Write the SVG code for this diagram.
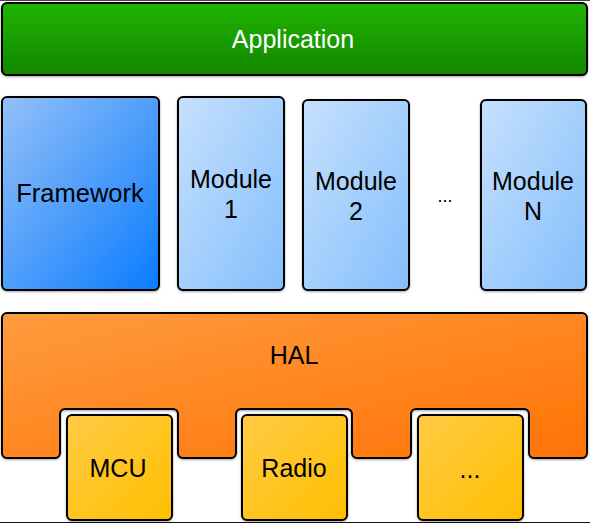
<svg xmlns="http://www.w3.org/2000/svg" width="590" height="523" viewBox="0 0 590 523">
<defs>
<linearGradient id="gApp" x1="0" y1="0" x2="0" y2="1"><stop offset="0" stop-color="#1db500"/><stop offset="1" stop-color="#168600"/></linearGradient>
<linearGradient id="gFw" x1="0" y1="0" x2="1" y2="1"><stop offset="0" stop-color="#94c0f8"/><stop offset="1" stop-color="#0a7cfe"/></linearGradient>
<linearGradient id="gMod" x1="0" y1="0" x2="1" y2="1"><stop offset="0" stop-color="#c6e0fd"/><stop offset="1" stop-color="#84bffc"/></linearGradient>
<linearGradient id="gHal" x1="0" y1="0" x2="1" y2="1"><stop offset="0" stop-color="#ff9b3e"/><stop offset="1" stop-color="#ff7305"/></linearGradient>
<linearGradient id="gChip" x1="0" y1="0" x2="1" y2="1"><stop offset="0" stop-color="#ffcb45"/><stop offset="1" stop-color="#ffbf00"/></linearGradient>
<filter id="sh" x="-5%" y="-5%" width="110%" height="110%"><feDropShadow dx="0" dy="1" stdDeviation="1" flood-color="#000" flood-opacity="0.35"/></filter>
</defs>
<style>
.box{stroke:#000;stroke-width:2;stroke-linejoin:round;filter:url(#sh)}
text{font-family:"Liberation Sans",Arial,sans-serif;font-size:25px;text-anchor:middle;fill:#000}
.w{fill:#fff}
</style>
<rect width="590" height="523" fill="#fff"/>
<line x1="0" y1="0.5" x2="590" y2="0.5" stroke="#444" stroke-width="1"/>
<line x1="0" y1="522.5" x2="590" y2="522.5" stroke="#111" stroke-width="1"/>
<g id="application">
<rect class="box" x="2" y="3" width="585" height="72" rx="5" fill="url(#gApp)"/>
<text class="w" x="293" y="48">Application</text>
</g>
<g id="framework">
<rect class="box" x="2" y="97" width="157" height="193" rx="5" fill="url(#gFw)"/>
<text x="80" y="202" style="font-size:25.5px">Framework</text>
</g>
<g id="module1">
<rect class="box" x="178" y="97" width="106" height="193" rx="5" fill="url(#gMod)"/>
<text x="231" y="188">Module</text>
<text x="231" y="218">1</text>
</g>
<g id="module2">
<rect class="box" x="303" y="100" width="106" height="190" rx="5" fill="url(#gMod)"/>
<text x="356" y="190">Module</text>
<text x="356" y="220">2</text>
</g>
<g id="module-ellipsis">
<text x="445" y="202" style="font-size:18px">...</text>
</g>
<g id="moduleN">
<rect class="box" x="481" y="100" width="105" height="190" rx="5" fill="url(#gMod)"/>
<text x="533" y="190">Module</text>
<text x="533" y="220">N</text>
</g>
<g id="hal">
<path class="box" fill="url(#gHal)" d="M 7,313 H 582 A5 5 0 0 1 587,318 V 453 A5 5 0 0 1 582,458 H 534 A5 5 0 0 1 529,453 V 414 A5 5 0 0 0 524,409 H 416 A5 5 0 0 0 411,414 V 453 A5 5 0 0 1 406,458 H 357 A5 5 0 0 1 352,453 V 414 A5 5 0 0 0 347,409 H 241 A5 5 0 0 0 236,414 V 453 A5 5 0 0 1 231,458 H 183 A5 5 0 0 1 178,453 V 414 A5 5 0 0 0 173,409 H 65 A5 5 0 0 0 60,414 V 453 A5 5 0 0 1 55,458 H 7 A5 5 0 0 1 2,453 V 318 A5 5 0 0 1 7,313 Z"/>
<text x="294" y="364">HAL</text>
</g>
<g id="mcu">
<rect class="box" x="67" y="415" width="105" height="105" rx="5" fill="url(#gChip)"/>
<text x="118" y="477">MCU</text>
</g>
<g id="radio">
<rect class="box" x="242" y="415" width="105" height="105" rx="5" fill="url(#gChip)"/>
<text x="294" y="477">Radio</text>
</g>
<g id="chip-ellipsis">
<rect class="box" x="418" y="415" width="105" height="105" rx="5" fill="url(#gChip)"/>
<text x="470" y="478">...</text>
</g>
<g id="connectors"/>
</svg>
